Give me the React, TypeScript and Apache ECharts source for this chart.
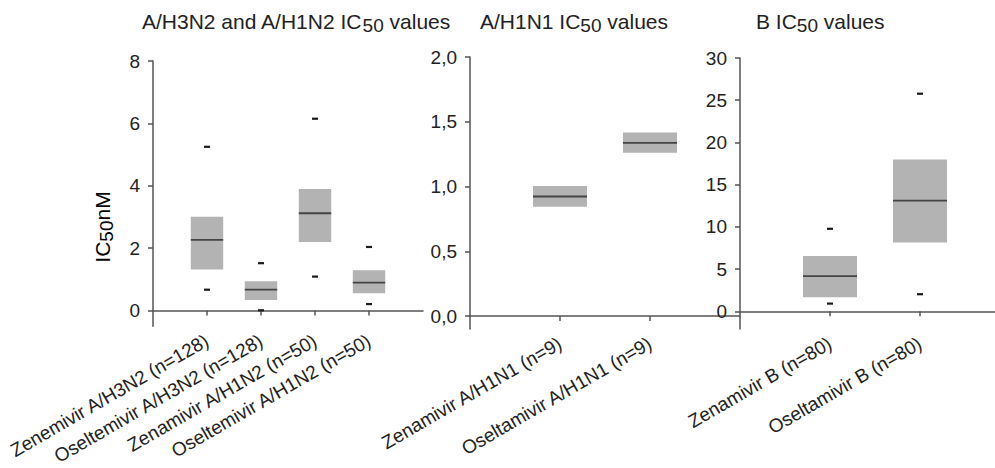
import React, { useEffect, useRef } from "react";
import * as echarts from "echarts";

// ---- data ----
const catsA = [
  "Zenemivir A/H3N2 (n=128)",
  "Oseltemivir A/H3N2 (n=128)",
  "Zenamivir A/H1N2 (n=50)",
  "Oseltemivir A/H1N2 (n=50)",
];
const q1A = [1.32, 0.34, 2.2, 0.56];
const medA = [2.27, 0.67, 3.12, 0.9];
const q3A = [3.01, 0.94, 3.9, 1.29];
const lowA = [0.67, 0.01, 1.09, 0.21];
const highA = [5.25, 1.52, 6.15, 2.04];

const catsB = ["Zenamivir A/H1N1 (n=9)", "Oseltamivir A/H1N1 (n=9)"];
const q1B = [0.843, 1.26];
const medB = [0.923, 1.337];
const q3B = [1.005, 1.417];

const catsC = ["Zenamivir B (n=80)", "Oseltamivir B (n=80)"];
const q1C = [1.66, 8.16];
const medC = [4.16, 13.1];
const q3C = [6.56, 17.97];
const lowC = [0.91, 2.02];
const highC = [9.77, 25.77];

const ticksA = [0, 2, 4, 6, 8];
const ticksB = [0, 0.5, 1.0, 1.5, 2.0];
const ticksC = [0, 5, 10, 15, 20, 25, 30];

const FONT = "'Liberation Sans', Arial, Helvetica, sans-serif";
const AXIS_COLOR = "#555";
const TEXT_COLOR = "#222";

function build(q1: number[], med: number[], q3: number[], low?: number[], high?: number[]) {
  return q1.map((v, i) => [
    i + 1,
    v,
    med[i],
    q3[i],
    low ? low[i] : NaN,
    high ? high[i] : NaN,
  ]);
}

const renderBox = (params: any, api: any) => {
  const x = api.value(0);
  const w = api.size([0.6, 0])[0];
  const markW = 6;
  const pQ1 = api.coord([x, api.value(1)]);
  const pMed = api.coord([x, api.value(2)]);
  const pQ3 = api.coord([x, api.value(3)]);
  const children: any[] = [
    {
      type: "rect",
      shape: { x: pQ3[0] - w / 2, y: pQ3[1], width: w, height: pQ1[1] - pQ3[1] },
      style: { fill: "#b3b3b3" },
    },
    {
      type: "line",
      shape: { x1: pMed[0] - w / 2, y1: pMed[1], x2: pMed[0] + w / 2, y2: pMed[1] },
      style: { stroke: "#444", lineWidth: 1.8 },
    },
  ];
  [4, 5].forEach((k) => {
    const v = api.value(k);
    if (v === null || v === undefined || isNaN(v)) return;
    const p = api.coord([x, v]);
    children.push({
      type: "rect",
      shape: { x: p[0] - markW / 2, y: p[1] - 1.1, width: markW, height: 2.2 },
      style: { fill: "#1a1a1a" },
    });
  });
  return { type: "group", children };
};

function xAxisFor(gridIndex: number, cats: string[], max: number) {
  const positions = cats.map((_, i) => i + 1);
  return {
    type: "value",
    gridIndex,
    min: 0,
    max,
    splitLine: { show: false },
    axisLine: { show: true, lineStyle: { color: AXIS_COLOR, width: 1.5 } },
    axisTick: { show: true, length: 5, lineStyle: { color: AXIS_COLOR, width: 1.5 }, customValues: positions },
    axisLabel: {
      customValues: positions,
      rotate: 30,
      margin: 13,
      fontSize: 19,
      fontFamily: FONT,
      color: TEXT_COLOR,
      formatter: (v: number) => cats[Math.round(v) - 1] || "",
    },
  };
}

function yAxisFor(gridIndex: number, min: number, max: number, ticks: number[], fmt: (v: number) => string) {
  return {
    type: "value",
    gridIndex,
    min,
    max,
    splitLine: { show: false },
    axisLine: { show: true, lineStyle: { color: AXIS_COLOR, width: 1.5 } },
    axisTick: { show: true, length: 5, lineStyle: { color: AXIS_COLOR, width: 1.5 }, customValues: ticks },
    axisLabel: {
      customValues: ticks,
      margin: 13,
      fontSize: 19,
      fontFamily: FONT,
      color: TEXT_COLOR,
      formatter: fmt,
    },
  };
}

const titleRich = {
  n: { fontSize: 21, lineHeight: 24, verticalAlign: "top", fontWeight: "normal", fontFamily: FONT, color: TEXT_COLOR },
  s: { fontSize: 19, lineHeight: 20, verticalAlign: "bottom", fontWeight: "normal", padding: [6, 0, 0, 0], fontFamily: FONT, color: TEXT_COLOR },
};

export default function App() {
  const ref = useRef<HTMLDivElement>(null);
  useEffect(() => {
    document.body.style.margin = "0";
    if (!ref.current) return;
    const chart = echarts.init(ref.current, undefined, { renderer: "svg" });
    const titleStyle = { fontWeight: "normal", rich: titleRich };
    chart.setOption({
      animation: false,
      backgroundColor: "#fff",
      title: [
        { text: "{n|A/H3N2 and A/H1N2 IC}{s|50}{n| values}", left: 142, top: 11, padding: 0, textStyle: titleStyle },
        { text: "{n|A/H1N1 IC}{s|50}{n| values}", left: 480, top: 11, padding: 0, textStyle: titleStyle },
        { text: "{n|B IC}{s|50}{n| values}", left: 756, top: 11, padding: 0, textStyle: titleStyle },
      ],
      grid: [
        { left: 153, top: 61, width: 270, height: 271 },
        { left: 470, top: 57, width: 270, height: 272 },
        { left: 740, top: 58, width: 255, height: 271 },
      ],
      xAxis: [xAxisFor(0, catsA, 5), xAxisFor(1, catsB, 3), xAxisFor(2, catsC, 2.833)],
      yAxis: [
        yAxisFor(0, -0.5, 8, ticksA, (v) => String(v)),
        yAxisFor(1, -0.1, 2, ticksB, (v) => v.toFixed(1).replace(".", ",")),
        yAxisFor(2, -2.1, 30, ticksC, (v) => String(v)),
      ],
      graphic: [
        {
          type: "text",
          x: 104,
          y: 227,
          rotation: Math.PI / 2,
          style: {
            text: "{n|IC}{s|50}{n|nM}",
            align: "center",
            verticalAlign: "middle",
            rich: titleRich,
          },
        },
      ],
      series: [
        { type: "custom", xAxisIndex: 0, yAxisIndex: 0, renderItem: renderBox, data: build(q1A, medA, q3A, lowA, highA), clip: false },
        { type: "custom", xAxisIndex: 1, yAxisIndex: 1, renderItem: renderBox, data: build(q1B, medB, q3B), clip: false },
        { type: "custom", xAxisIndex: 2, yAxisIndex: 2, renderItem: renderBox, data: build(q1C, medC, q3C, lowC, highC), clip: false },
      ],
    });
    return () => chart.dispose();
  }, []);
  return <div ref={ref} style={{ width: 995, height: 468 }} />;
}
